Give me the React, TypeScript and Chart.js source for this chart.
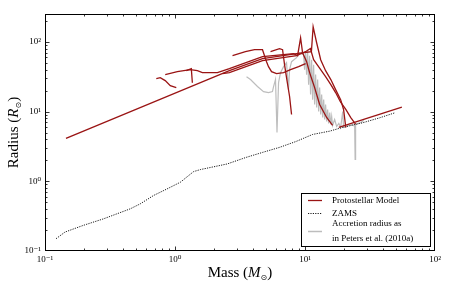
import { useEffect, useRef } from 'react';
import { Chart, registerables } from 'chart.js';

Chart.register(...registerables);

// ---------- data (mass in Msun, radius in Rsun) ----------
const xTickValues = [0.1, 1, 10, 100];
const xTickLabels = ['10⁻¹', '10⁰', '10¹', '10²'];
const yTickValues = [0.1, 1, 10, 100];
const yTickLabels = ['10⁻¹', '10⁰', '10¹', '10²'];

const legendLabels = ['Protostellar Model', 'ZAMS', 'Accretion radius as', 'in Peters et al. (2010a)'];

const track1: [number, number][] = [
  [0.145, 4.11], [2.62, 38.5], [4.71, 57.2], [8.61, 67.4], [11.2, 72], [11.55, 164],
  [12.29, 96.8], [13.2, 55.3], [14.4, 38.5], [15.8, 28.7], [17.2, 20.6], [18.8, 14.8],
  [19.8, 10.7], [20.6, 5.9],
];
const track2: [number, number][] = [
  [0.841, 33.8], [1.042, 37.3], [1.312, 39.8], [1.486, 38.5], [1.624, 36.1], [2.12, 36.1],
  [2.62, 41.1], [4.71, 61.1], [8.17, 67.4], [8.77, 63.1], [9.25, 114], [9.58, 69.6],
  [10.29, 51.8], [10.85, 36.1], [11.86, 22.0], [12.96, 12.6], [14.67, 8.21], [16.3, 6.31],
];
const track3: [number, number][] = [
  [2.32, 34.9], [2.62, 36.1], [4.71, 53.5], [8.61, 63.1], [10.1, 72], [11.0, 80],
  [11.65, 55.3], [13.2, 39.8], [14.4, 31.6], [15.8, 24.3], [17.2, 18.7], [18.8, 13.6],
  [20.6, 10.7], [22.5, 8.2], [24.5, 6.6],
];
const track4: [number, number][] = [
  [2.77, 63.1], [3.48, 72], [4.09, 76.9], [4.71, 76.9], [5.06, 51.8], [5.24, 43.9],
  [5.53, 37.3], [6.04, 34.9], [6.84, 36.1], [7.74, 39.8], [8.93, 43.9], [10.1, 48.5],
];
const track5: [number, number][] = [
  [5.43, 72], [6.37, 79.4], [6.72, 76.9], [6.96, 46.9], [7.21, 30.6], [7.61, 16.4], [7.88, 9.06],
];
const track6: [number, number][] = [
  [0.718, 29.6], [0.77, 30.6], [0.841, 27.7], [0.92, 23.5], [1.023, 22.0],
];
const track7: [number, number][] = [
  [1.222, 38.5], [1.335, 41.1], [1.36, 25.9],
];
const track8: [number, number][] = [
  [18.2, 5.9], [55.6, 11.6],
];

const zams: [number, number][] = [
  [0.1216, 0.15], [0.1426, 0.187], [0.197, 0.233], [0.2816, 0.289], [0.357, 0.341],
  [0.452, 0.402], [0.54, 0.474], [0.684, 0.625], [0.868, 0.776], [1.099, 0.968],
  [1.391, 1.376], [1.567, 1.47], [2.52, 1.77], [3.53, 2.2], [4.74, 2.6], [6.37, 3.06],
  [8.57, 3.73], [11.45, 4.69], [15.5, 5.23], [19.05, 5.85], [27.8, 6.9], [37.6, 8.13], [49.1, 9.58],
];

const accretion: [number, number][] = [
  [3.55, 31.6], [3.81, 28.7], [4.31, 22.8], [4.8, 19.3], [5.24, 18.7], [5.62, 19.3],
  [5.73, 22.8], [5.93, 28.7], [6.09, 5.01], [6.26, 25.9], [6.48, 36.1], [6.84, 43.9],
  [7.21, 50.1], [7.47, 20.6], [7.61, 39.8], [7.88, 51.8], [8.61, 59.1], [9.08, 69.6],
  [9.75, 65.2], [9.93, 39.8], [10.1, 72], [10.29, 33.8], [10.47, 76.9], [10.66, 24.3],
  [10.85, 63.1], [11.04, 17.5], [11.24, 55.3], [11.45, 14.8], [11.65, 46.9], [11.86, 12.6],
  [12.07, 33.8], [12.29, 11.4], [12.51, 28.7], [12.73, 10], [12.96, 22.0], [13.2, 9.06],
  [13.43, 17.5], [13.67, 8.21], [13.92, 14.8], [14.16, 7.69], [14.4, 12.6], [14.67, 7.2],
  [14.93, 10.7], [15.2, 6.74], [15.5, 9.68], [15.8, 6.52], [16.04, 8.48], [16.3, 6.31],
  [16.9, 7.69], [17.52, 6.1], [18.2, 6.74], [18.8, 5.9], [19.5, 10], [19.8, 5.9],
  [21.7, 6.31], [23.3, 6.52], [24.1, 6.1], [24.3, 2.06], [24.5, 6.52], [26.8, 6.96], [28.3, 7.44],
];

const RED = '#9a1414';
const GRAY = '#bdbdbd';
const SERIF = '"Liberation Serif", "DejaVu Serif", serif';

const toPts = (arr: [number, number][]) => arr.map(([x, y]) => ({ x, y }));

const framePlugin = {
  id: 'frameTicks',
  afterDraw(chart: any) {
    const { ctx, chartArea: a, scales } = chart;
    const xs = scales.x, ys = scales.y;
    ctx.save();
    ctx.strokeStyle = '#000';
    ctx.lineWidth = 1;
    ctx.strokeRect(a.left + 0.5, a.top + 0.5, a.right - a.left - 1, a.bottom - a.top - 1);
    ctx.lineWidth = 0.8;
    const drawTicks = (scale: any, min: number, max: number, horiz: boolean) => {
      for (let e = -2; e <= 3; e++) {
        for (let k = 1; k <= 9; k++) {
          const v = k * Math.pow(10, e);
          if (v < min * 1.001 || v > max * 0.999) continue;
          const len = k === 1 ? 4.5 : 2.5;
          const p = Math.round(scale.getPixelForValue(v)) + 0.5;
          ctx.beginPath();
          if (horiz) {
            ctx.moveTo(p, a.bottom); ctx.lineTo(p, a.bottom - len);
            ctx.moveTo(p, a.top); ctx.lineTo(p, a.top + len);
          } else {
            ctx.moveTo(a.left, p); ctx.lineTo(a.left + len, p);
            ctx.moveTo(a.right, p); ctx.lineTo(a.right - len, p);
          }
          ctx.stroke();
        }
      }
    };
    drawTicks(xs, xs.min, xs.max, true);
    drawTicks(ys, ys.min, ys.max, false);

    // axis titles
    const drawMixed = (parts: { t: string; f: string; dy?: number }[], cx: number, cy: number, rot: number) => {
      ctx.save();
      ctx.translate(cx, cy);
      ctx.rotate(rot);
      ctx.fillStyle = '#000';
      ctx.textBaseline = 'alphabetic';
      let w = 0;
      for (const p of parts) { ctx.font = p.f; w += ctx.measureText(p.t).width; }
      let x = -w / 2;
      for (const p of parts) {
        ctx.font = p.f;
        ctx.fillText(p.t, x, 5 + (p.dy || 0));
        x += ctx.measureText(p.t).width;
      }
      ctx.restore();
    };
    const big = `15px ${SERIF}`;
    const bigI = `italic 15px ${SERIF}`;
    const sub = `8px "DejaVu Sans", sans-serif`;
    drawMixed([{ t: 'Mass (', f: big }, { t: 'M', f: bigI }, { t: '⊙', f: sub, dy: 3 }, { t: ')', f: big }],
      (a.left + a.right) / 2, 272, 0);
    drawMixed([{ t: 'Radius (', f: big }, { t: 'R', f: bigI }, { t: '⊙', f: sub, dy: 3 }, { t: ')', f: big }],
      13, (a.top + a.bottom) / 2, -Math.PI / 2);

    // legend
    const bx = 301, by = 193, bw = 129, bh = 53;
    ctx.fillStyle = '#fff';
    ctx.fillRect(bx, by, bw, bh);
    ctx.strokeStyle = '#000';
    ctx.lineWidth = 1;
    ctx.strokeRect(bx + 0.5, by + 0.5, bw, bh);
    const sample = (y: number, color: string, width: number, dash: number[]) => {
      ctx.beginPath();
      ctx.strokeStyle = color;
      ctx.lineWidth = width;
      ctx.setLineDash(dash);
      ctx.moveTo(308, y); ctx.lineTo(322, y);
      ctx.stroke();
      ctx.setLineDash([]);
    };
    sample(200.5, RED, 1.3, []);
    sample(213.5, '#000', 0.9, [1.2, 1.2]);
    sample(231.5, GRAY, 1.5, []);
    ctx.fillStyle = '#000';
    ctx.font = `9px ${SERIF}`;
    ctx.textBaseline = 'middle';
    ctx.textAlign = 'left';
    ctx.fillText(legendLabels[0], 332, 200.5);
    ctx.fillText(legendLabels[1], 332, 213.5);
    ctx.fillText(legendLabels[2], 332, 224);
    ctx.fillText(legendLabels[3], 332, 239);
    ctx.restore();
  },
};

export default function App() {
  const ref = useRef<HTMLCanvasElement | null>(null);
  useEffect(() => {
    document.body.style.margin = '0';
    if (!ref.current) return;
    const redTracks = [track1, track2, track3, track4, track5, track6, track7, track8];
    const datasets: any[] = redTracks.map((t, i) => ({
      label: i === 0 ? legendLabels[0] : `track${i + 1}`,
      data: toPts(t),
      showLine: true,
      borderColor: RED,
      borderWidth: 1.3,
      pointRadius: 0,
      tension: 0,
      order: 0,
    }));
    datasets.push({
      label: legendLabels[1],
      data: toPts(zams),
      showLine: true,
      borderColor: '#000',
      borderWidth: 0.9,
      borderDash: [1.2, 1.2],
      pointRadius: 0,
      order: 1,
    });
    datasets.push({
      label: legendLabels[2],
      data: toPts(accretion),
      showLine: true,
      borderColor: GRAY,
      borderWidth: 1.2,
      pointRadius: 0,
      order: 2,
    });
    const chart = new Chart(ref.current, {
      type: 'scatter',
      data: { datasets },
      options: {
        animation: false,
        responsive: false,
        layout: { padding: { left: 0, right: 23, top: 14, bottom: 0 } },
        plugins: { legend: { display: false }, tooltip: { enabled: false } },
        scales: {
          x: {
            type: 'logarithmic',
            min: 0.1,
            max: 100,
            grid: { display: false, drawTicks: false },
            border: { display: false },
            afterBuildTicks: (s: any) => { s.ticks = xTickValues.map((v) => ({ value: v })); },
            afterFit: (s: any) => { s.height = 35; },
            ticks: {
              autoSkip: false,
              maxRotation: 0,
              padding: 3,
              color: '#000',
              font: { family: SERIF, size: 9 },
              callback: (v: any) => xTickLabels[xTickValues.indexOf(Number(v))] ?? '',
            },
          },
          y: {
            type: 'logarithmic',
            min: 0.1,
            max: 250,
            grid: { display: false, drawTicks: false },
            border: { display: false },
            afterBuildTicks: (s: any) => { s.ticks = yTickValues.map((v) => ({ value: v })); },
            afterFit: (s: any) => { s.width = 45; },
            ticks: {
              autoSkip: false,
              padding: 4,
              color: '#000',
              font: { family: SERIF, size: 9 },
              callback: (v: any) => yTickLabels[yTickValues.indexOf(Number(v))] ?? '',
            },
          },
        },
      },
      plugins: [framePlugin],
    });
    return () => chart.destroy();
  }, []);
  return (
    <div style={{ width: 458, height: 286 }}>
      <canvas ref={ref} width={458} height={286} style={{ display: 'block' }} />
    </div>
  );
}
